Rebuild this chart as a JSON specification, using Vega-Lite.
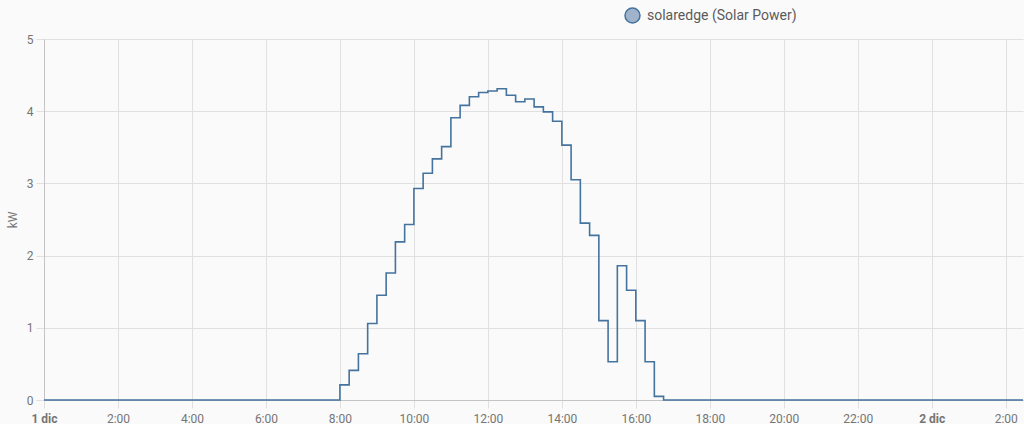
{
  "$schema": "https://vega.github.io/schema/vega-lite/v6.json",
  "width": 979,
  "height": 361,
  "padding": {"left": 6, "top": 7, "right": 0, "bottom": 0},
  "background": "#fafafa",
  "config": {
    "font": "Roboto",
    "view": {"stroke": null},
    "axis": {
      "labelFontSize": 12,
      "titleFontSize": 12,
      "labelColor": "#757575",
      "titleColor": "#757575",
      "titleFontWeight": "normal",
      "gridColor": "#e0e0e0",
      "tickColor": "#e0e0e0",
      "domainColor": "#c4c4c4"
    }
  },
  "data": {
    "values": [
      {"time": "2023-12-01T00:00:00", "kw": 0, "series": "solaredge (Solar Power)"},
      {"time": "2023-12-01T08:00:00", "kw": 0.21, "series": "solaredge (Solar Power)"},
      {"time": "2023-12-01T08:15:00", "kw": 0.41, "series": "solaredge (Solar Power)"},
      {"time": "2023-12-01T08:30:00", "kw": 0.64, "series": "solaredge (Solar Power)"},
      {"time": "2023-12-01T08:45:00", "kw": 1.06, "series": "solaredge (Solar Power)"},
      {"time": "2023-12-01T09:00:00", "kw": 1.45, "series": "solaredge (Solar Power)"},
      {"time": "2023-12-01T09:15:00", "kw": 1.76, "series": "solaredge (Solar Power)"},
      {"time": "2023-12-01T09:30:00", "kw": 2.19, "series": "solaredge (Solar Power)"},
      {"time": "2023-12-01T09:45:00", "kw": 2.43, "series": "solaredge (Solar Power)"},
      {"time": "2023-12-01T10:00:00", "kw": 2.93, "series": "solaredge (Solar Power)"},
      {"time": "2023-12-01T10:15:00", "kw": 3.14, "series": "solaredge (Solar Power)"},
      {"time": "2023-12-01T10:30:00", "kw": 3.34, "series": "solaredge (Solar Power)"},
      {"time": "2023-12-01T10:45:00", "kw": 3.51, "series": "solaredge (Solar Power)"},
      {"time": "2023-12-01T11:00:00", "kw": 3.91, "series": "solaredge (Solar Power)"},
      {"time": "2023-12-01T11:15:00", "kw": 4.08, "series": "solaredge (Solar Power)"},
      {"time": "2023-12-01T11:30:00", "kw": 4.2, "series": "solaredge (Solar Power)"},
      {"time": "2023-12-01T11:45:00", "kw": 4.26, "series": "solaredge (Solar Power)"},
      {"time": "2023-12-01T12:00:00", "kw": 4.28, "series": "solaredge (Solar Power)"},
      {"time": "2023-12-01T12:15:00", "kw": 4.31, "series": "solaredge (Solar Power)"},
      {"time": "2023-12-01T12:30:00", "kw": 4.22, "series": "solaredge (Solar Power)"},
      {"time": "2023-12-01T12:45:00", "kw": 4.13, "series": "solaredge (Solar Power)"},
      {"time": "2023-12-01T13:00:00", "kw": 4.17, "series": "solaredge (Solar Power)"},
      {"time": "2023-12-01T13:15:00", "kw": 4.06, "series": "solaredge (Solar Power)"},
      {"time": "2023-12-01T13:30:00", "kw": 3.99, "series": "solaredge (Solar Power)"},
      {"time": "2023-12-01T13:45:00", "kw": 3.86, "series": "solaredge (Solar Power)"},
      {"time": "2023-12-01T14:00:00", "kw": 3.53, "series": "solaredge (Solar Power)"},
      {"time": "2023-12-01T14:15:00", "kw": 3.05, "series": "solaredge (Solar Power)"},
      {"time": "2023-12-01T14:30:00", "kw": 2.45, "series": "solaredge (Solar Power)"},
      {"time": "2023-12-01T14:45:00", "kw": 2.28, "series": "solaredge (Solar Power)"},
      {"time": "2023-12-01T15:00:00", "kw": 1.1, "series": "solaredge (Solar Power)"},
      {"time": "2023-12-01T15:15:00", "kw": 0.53, "series": "solaredge (Solar Power)"},
      {"time": "2023-12-01T15:30:00", "kw": 1.86, "series": "solaredge (Solar Power)"},
      {"time": "2023-12-01T15:45:00", "kw": 1.52, "series": "solaredge (Solar Power)"},
      {"time": "2023-12-01T16:00:00", "kw": 1.1, "series": "solaredge (Solar Power)"},
      {"time": "2023-12-01T16:15:00", "kw": 0.53, "series": "solaredge (Solar Power)"},
      {"time": "2023-12-01T16:30:00", "kw": 0.05, "series": "solaredge (Solar Power)"},
      {"time": "2023-12-01T16:45:00", "kw": 0, "series": "solaredge (Solar Power)"},
      {"time": "2023-12-02T02:28:00", "kw": 0, "series": "solaredge (Solar Power)"}
    ]
  },
  "mark": {"type": "line", "interpolate": "step-after", "strokeWidth": 1.6},
  "encoding": {
    "x": {
      "field": "time",
      "type": "temporal",
      "scale": {
        "domain": [
          {"year": 2023, "month": 12, "date": 1, "hours": 0, "minutes": 0},
          {"year": 2023, "month": 12, "date": 2, "hours": 2, "minutes": 28}
        ],
        "nice": false
      },
      "axis": {
        "title": null,
        "values": [
          {"year": 2023, "month": 12, "date": 1, "hours": 0},
          {"year": 2023, "month": 12, "date": 1, "hours": 2},
          {"year": 2023, "month": 12, "date": 1, "hours": 4},
          {"year": 2023, "month": 12, "date": 1, "hours": 6},
          {"year": 2023, "month": 12, "date": 1, "hours": 8},
          {"year": 2023, "month": 12, "date": 1, "hours": 10},
          {"year": 2023, "month": 12, "date": 1, "hours": 12},
          {"year": 2023, "month": 12, "date": 1, "hours": 14},
          {"year": 2023, "month": 12, "date": 1, "hours": 16},
          {"year": 2023, "month": 12, "date": 1, "hours": 18},
          {"year": 2023, "month": 12, "date": 1, "hours": 20},
          {"year": 2023, "month": 12, "date": 1, "hours": 22},
          {"year": 2023, "month": 12, "date": 2, "hours": 0},
          {"year": 2023, "month": 12, "date": 2, "hours": 2}
        ],
        "tickSize": 8,
        "labelPadding": 5,
        "labelFlush": false,
        "labelOverlap": false,
        "labelExpr": "hours(datum.value) == 0 ? date(datum.value) + ' dic' : timeFormat(datum.value, '%-H:%M')",
        "labelFontWeight": {"condition": {"test": "hours(datum.value) == 0", "value": "bold"}, "value": "normal"}
      }
    },
    "y": {
      "field": "kw",
      "type": "quantitative",
      "scale": {"domain": [0, 5], "nice": false},
      "axis": {
        "title": "kW",
        "values": [0, 1, 2, 3, 4, 5],
        "tickSize": 8,
        "labelPadding": 3,
        "titlePadding": 7
      }
    },
    "color": {
      "field": "series",
      "type": "nominal",
      "scale": {"range": ["#44739e"]},
      "legend": {
        "title": null,
        "orient": "none",
        "legendX": 580,
        "legendY": -32,
        "symbolType": "circle",
        "symbolSize": 225,
        "symbolFillColor": "#9fb3cc",
        "symbolStrokeColor": "#4a73a0",
        "symbolStrokeWidth": 1.5,
        "labelFontSize": 14,
        "labelColor": "#5a5a5a",
        "labelOffset": 6
      }
    }
  }
}
